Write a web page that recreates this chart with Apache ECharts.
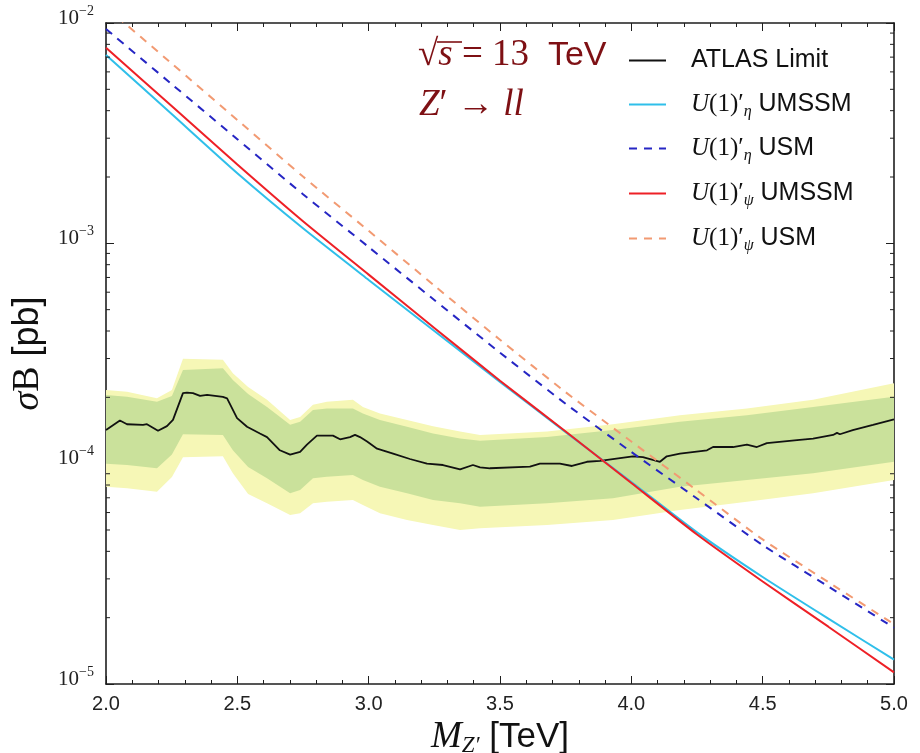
<!DOCTYPE html>
<html><head><meta charset="utf-8">
<script src="https://cdn.jsdelivr.net/npm/echarts@6/dist/echarts.min.js"></script>
<style>html,body{margin:0;padding:0;background:#fff}#c{width:920px;height:753px}</style>
</head><body><div id="c"></div>
<script>
// ---------------- data ----------------
const xTicks = [2.0, 2.5, 3.0, 3.5, 4.0, 4.5, 5.0];
const yTickExponents = [-5, -4, -3, -2];
const yMinorTicks = [2e-5,3e-5,4e-5,5e-5,6e-5,7e-5,8e-5,9e-5,
                     2e-4,3e-4,4e-4,5e-4,6e-4,7e-4,8e-4,9e-4,
                     2e-3,3e-3,4e-3,5e-3,6e-3,7e-3,8e-3,9e-3];

const thMass   = [2.0, 2.25, 2.5, 2.75, 3.0, 3.25, 3.5, 3.75, 4.0, 4.25, 4.5, 4.75, 5.0];
const etaUMSSM = [7.16e-3, 3.86e-3, 2.08e-3, 1.17e-3, 6.82e-4, 4.00e-4, 2.35e-4, 1.39e-4, 8.26e-5, 4.88e-5, 3.06e-5, 1.98e-5, 1.29e-5];
const etaUSM   = [9.39e-3, 5.28e-3, 2.97e-3, 1.67e-3, 9.62e-4, 5.53e-4, 3.19e-4, 1.87e-4, 1.13e-4, 6.95e-5, 4.27e-5, 2.77e-5, 1.80e-5];
const psiUMSSM = [7.72e-3, 4.20e-3, 2.28e-3, 1.26e-3, 7.21e-4, 4.13e-4, 2.38e-4, 1.40e-4, 8.17e-5, 4.77e-5, 2.92e-5, 1.82e-5, 1.13e-5];
const psiUSM   = [1.18e-2, 6.55e-3, 3.63e-3, 2.01e-3, 1.14e-3, 6.43e-4, 3.65e-4, 2.11e-4, 1.26e-4, 7.56e-5, 4.53e-5, 2.90e-5, 1.87e-5];

const limMass = [2.000, 2.053, 2.080, 2.141, 2.156, 2.198, 2.232, 2.255, 2.293, 2.308, 2.331, 2.358, 2.385, 2.445, 2.461, 2.499, 2.537, 2.586, 2.613, 2.662, 2.701, 2.739, 2.765, 2.803, 2.864, 2.891, 2.929, 2.948, 2.967, 2.994, 3.032, 3.093, 3.157, 3.222, 3.283, 3.348, 3.397, 3.424, 3.462, 3.614, 3.652, 3.728, 3.774, 3.831, 3.881, 3.957, 4.006, 4.044, 4.082, 4.109, 4.135, 4.185, 4.288, 4.311, 4.387, 4.440, 4.478, 4.516, 4.631, 4.692, 4.768, 4.783, 4.794, 4.843, 4.920, 5.000];
const atlasLimit = [1.42e-4, 1.57e-4, 1.51e-4, 1.50e-4, 1.51e-4, 1.41e-4, 1.48e-4, 1.58e-4, 2.09e-4, 2.10e-4, 2.09e-4, 2.03e-4, 2.05e-4, 2.01e-4, 1.98e-4, 1.61e-4, 1.47e-4, 1.37e-4, 1.32e-4, 1.15e-4, 1.10e-4, 1.13e-4, 1.22e-4, 1.34e-4, 1.34e-4, 1.29e-4, 1.32e-4, 1.35e-4, 1.32e-4, 1.26e-4, 1.17e-4, 1.11e-4, 1.05e-4, 1.00e-4, 9.86e-5, 9.43e-5, 9.86e-5, 9.63e-5, 9.53e-5, 9.69e-5, 1.00e-4, 1.00e-4, 9.76e-5, 1.02e-4, 1.03e-4, 1.06e-4, 1.08e-4, 1.07e-4, 1.04e-4, 1.02e-4, 1.08e-4, 1.11e-4, 1.15e-4, 1.19e-4, 1.19e-4, 1.22e-4, 1.19e-4, 1.24e-4, 1.28e-4, 1.30e-4, 1.35e-4, 1.38e-4, 1.36e-4, 1.42e-4, 1.50e-4, 1.59e-4];

const bandMass = [2.000, 2.080, 2.194, 2.251, 2.293, 2.445, 2.483, 2.541, 2.613, 2.701, 2.739, 2.788, 2.841, 2.940, 2.978, 3.043, 3.146, 3.245, 3.348, 3.424, 3.679, 3.930, 4.185, 4.440, 4.692, 5.000];
const oneSigmaHi = [2.05e-4, 2.01e-4, 1.91e-4, 2.03e-4, 2.66e-4, 2.71e-4, 2.40e-4, 2.07e-4, 1.81e-4, 1.50e-4, 1.55e-4, 1.75e-4, 1.78e-4, 1.78e-4, 1.69e-4, 1.58e-4, 1.47e-4, 1.37e-4, 1.30e-4, 1.27e-4, 1.32e-4, 1.42e-4, 1.55e-4, 1.66e-4, 1.81e-4, 2.01e-4];
const oneSigmaLo = [1.00e-4, 9.86e-5, 9.53e-5, 1.10e-4, 1.36e-4, 1.35e-4, 1.15e-4, 9.66e-5, 8.58e-5, 7.34e-5, 7.59e-5, 8.58e-5, 8.73e-5, 8.88e-5, 8.43e-5, 7.86e-5, 7.34e-5, 6.84e-5, 6.61e-5, 6.38e-5, 6.61e-5, 6.96e-5, 7.86e-5, 8.43e-5, 9.04e-5, 1.02e-4];
const twoSigmaHi = [2.16e-4, 2.12e-4, 1.98e-4, 2.16e-4, 2.99e-4, 2.96e-4, 2.57e-4, 2.23e-4, 1.95e-4, 1.58e-4, 1.63e-4, 1.85e-4, 1.91e-4, 1.95e-4, 1.81e-4, 1.69e-4, 1.58e-4, 1.48e-4, 1.40e-4, 1.35e-4, 1.40e-4, 1.51e-4, 1.66e-4, 1.78e-4, 1.95e-4, 2.32e-4];
const twoSigmaLo = [7.86e-5, 7.73e-5, 7.46e-5, 8.70e-5, 1.07e-4, 1.08e-4, 9.04e-5, 7.29e-5, 6.61e-5, 5.85e-5, 5.95e-5, 6.61e-5, 6.72e-5, 6.84e-5, 6.49e-5, 5.95e-5, 5.55e-5, 5.27e-5, 5.00e-5, 5.09e-5, 5.27e-5, 5.55e-5, 6.16e-5, 6.72e-5, 7.34e-5, 8.43e-5];

// ---------------- chart ----------------
const SERIF = '"Liberation Serif", "DejaVu Serif", serif';
const SANS = '"Liberation Sans", Arial, sans-serif';
const X_MIN = xTicks[0], X_MAX = xTicks[xTicks.length - 1];
const Y_MIN = Math.pow(10, yTickExponents[0]), Y_MAX = Math.pow(10, yTickExponents[yTickExponents.length - 1]);
const FRAME = '#1e1e1e';
const DARKRED = '#7e1014';

function pairs(xs, ys) { return xs.map((x, i) => [x, ys[i]]); }

function band(name, lo, hi, color, z) {
  return {
    type: 'custom', name, z, silent: true,
    data: [[bandMass[0], lo[0]]],
    renderItem(params, api) {
      const pts = [];
      for (let i = 0; i < bandMass.length; i++) pts.push(api.coord([bandMass[i], hi[i]]));
      for (let i = bandMass.length - 1; i >= 0; i--) pts.push(api.coord([bandMass[i], lo[i]]));
      return { type: 'polygon', shape: { points: pts }, style: { fill: color } };
    }
  };
}

const legendNames = ['ATLAS Limit', 'etaUMSSM', 'etaUSM', 'psiUMSSM', 'psiUSM'];
const legendText = {
  'ATLAS Limit': '{g| }{t|ATLAS Limit}',
  'etaUMSSM': '{g| }{m|U}{n|(1)′}{sub|η}{t| UMSSM}',
  'etaUSM': '{g| }{m|U}{n|(1)′}{sub|η}{t| USM}',
  'psiUMSSM': '{g| }{m|U}{n|(1)′}{sub|ψ}{t| UMSSM}',
  'psiUSM': '{g| }{m|U}{n|(1)′}{sub|ψ}{t| USM}'
};
const legendRich = {
  g: { width: 20 },
  t: { fontFamily: SANS, fontSize: 25, lineHeight: 30, color: '#111' },
  m: { fontFamily: SERIF, fontStyle: 'italic', fontSize: 25, lineHeight: 30, color: '#111' },
  n: { fontFamily: SERIF, fontSize: 25, lineHeight: 30, color: '#111' },
  sub: { fontFamily: SERIF, fontStyle: 'italic', fontSize: 16, lineHeight: 20, verticalAlign: 'bottom', color: '#111' }
};
const legendRowCenters = [59, 103, 147, 192, 237];
const legends = legendNames.map((nm, i) => ({
  data: [nm], left: 628, top: legendRowCenters[i] - 11, padding: 0,
  itemWidth: 37, itemHeight: 14, selectedMode: false,
  itemStyle: { opacity: 0 },
  formatter: (n) => legendText[n],
  textStyle: { rich: legendRich }
}));

const option = {
  backgroundColor: '#fff',
  animation: false,
  grid: { left: 106, right: 26, top: 23, bottom: 69, containLabel: false, outerBoundsMode: 'none' },
  legend: legends,
  xAxis: [{
    type: 'value', min: X_MIN, max: X_MAX, interval: 0.5, position: 'bottom',
    axisLine: { show: true, onZero: false, lineStyle: { color: FRAME, width: 1.6 } },
    axisTick: { show: true, inside: true, length: 8, lineStyle: { color: FRAME, width: 1 } },
    minorTick: { show: true, splitNumber: 5, length: 4, lineStyle: { color: FRAME, width: 1 } },
    splitLine: { show: false },
    axisLabel: { fontFamily: SANS, fontSize: 20, color: '#222', margin: 10, formatter: v => v.toFixed(1) },
    name: '{mi|M}{sub|Z′}{t| [TeV]}', nameLocation: 'middle', nameGap: 26,
    nameTextStyle: { rich: {
      mi: { fontFamily: SERIF, fontStyle: 'italic', fontSize: 37, lineHeight: 40, color: '#111' },
      sub: { fontFamily: SERIF, fontStyle: 'italic', fontSize: 23, lineHeight: 26, verticalAlign: 'bottom', color: '#111' },
      t: { fontFamily: SANS, fontSize: 35, lineHeight: 40, color: '#111' }
    } }
  }, {
    type: 'value', min: X_MIN, max: X_MAX, interval: 0.5, position: 'top',
    axisLine: { show: true, onZero: false, lineStyle: { color: FRAME, width: 1.6 } },
    axisTick: { show: true, inside: true, length: 8, lineStyle: { color: FRAME, width: 1 } },
    minorTick: { show: true, splitNumber: 5, length: 4, lineStyle: { color: FRAME, width: 1 } },
    splitLine: { show: false }, axisLabel: { show: false }
  }],
  yAxis: [{
    type: 'log', logBase: 10, min: Y_MIN, max: Y_MAX, position: 'left',
    axisLine: { show: true, onZero: false, lineStyle: { color: FRAME, width: 1.6 } },
    axisTick: { show: true, inside: true, length: 8, lineStyle: { color: FRAME, width: 1 } },
    minorTick: { show: false }, splitLine: { show: false },
    axisLabel: {
      margin: 12, padding: [0, 0, 10, 0],
      formatter: (v) => { const e = Math.round(Math.log10(v)); return '{b|10}{e|' + (e < 0 ? '−' : '') + Math.abs(e) + '}'; },
      rich: {
        b: { fontFamily: SERIF, fontSize: 21, lineHeight: 28, color: '#222' },
        e: { fontFamily: SERIF, fontSize: 14, lineHeight: 14, verticalAlign: 'top', color: '#222' }
      }
    },
    name: '{si|σ}{r|B}{t| [pb]}', nameLocation: 'middle', nameGap: 50, nameRotate: 90,
    nameTextStyle: { rich: {
      si: { fontFamily: SERIF, fontStyle: 'italic', fontSize: 38, lineHeight: 40, color: '#111' },
      r: { fontFamily: SERIF, fontSize: 38, lineHeight: 40, color: '#111' },
      t: { fontFamily: SANS, fontSize: 36, lineHeight: 40, color: '#111' }
    } }
  }, {
    type: 'log', logBase: 10, min: Y_MIN, max: Y_MAX, position: 'right',
    axisLine: { show: true, onZero: false, lineStyle: { color: FRAME, width: 1.6 } },
    axisTick: { show: true, inside: true, length: 8, lineStyle: { color: FRAME, width: 1 } },
    minorTick: { show: false }, splitLine: { show: false }, axisLabel: { show: false }
  }],
  graphic: [
    { type: 'text', left: 418, top: 37, z: 100,
      style: { text: '{sq|√}{si|s}{n| = 13}{tv|  TeV}', rich: {
        sq: { fontFamily: SERIF, fontSize: 37, lineHeight: 46, fill: DARKRED },
        si: { fontFamily: SERIF, fontStyle: 'italic', fontSize: 37, lineHeight: 46, fill: DARKRED },
        n: { fontFamily: SERIF, fontSize: 37, lineHeight: 46, fill: DARKRED },
        tv: { fontFamily: SANS, fontSize: 34, lineHeight: 46, fill: DARKRED }
      } } },
    { type: 'line', z: 100, shape: { x1: 437, y1: 42, x2: 462, y2: 42 }, style: { stroke: DARKRED, lineWidth: 1.6 } },
    { type: 'text', left: 419, top: 87, z: 100,
      style: { text: '{zi|Z}{n|′ → }{li|ll}', rich: {
        zi: { fontFamily: SERIF, fontStyle: 'italic', fontSize: 37, lineHeight: 46, fill: DARKRED },
        n: { fontFamily: SERIF, fontSize: 37, lineHeight: 46, fill: DARKRED },
        li: { fontFamily: SERIF, fontStyle: 'italic', fontSize: 37, lineHeight: 46, fill: DARKRED }
      } } }
  ],
  series: [
    band('2sigma', twoSigmaLo, twoSigmaHi, '#f6f7b6', 1),
    band('1sigma', oneSigmaLo, oneSigmaHi, '#cae19b', 2),
    { type: 'line', name: 'ATLAS Limit', data: pairs(limMass, atlasLimit), symbol: 'none', z: 4,
      lineStyle: { color: '#111', width: 1.8 }, itemStyle: { color: '#111' } },
    { type: 'line', name: 'etaUMSSM', data: pairs(thMass, etaUMSSM), symbol: 'none', z: 5, smooth: 0.2,
      lineStyle: { color: '#2fbfea', width: 2 }, itemStyle: { color: '#2fbfea' } },
    { type: 'line', name: 'etaUSM', data: pairs(thMass, etaUSM), symbol: 'none', z: 5, smooth: 0.2,
      lineStyle: { color: '#2626c4', width: 2, type: [8, 7] }, itemStyle: { color: '#2626c4' } },
    { type: 'line', name: 'psiUMSSM', data: pairs(thMass, psiUMSSM), symbol: 'none', z: 6, smooth: 0.2,
      lineStyle: { color: '#ee2026', width: 2 }, itemStyle: { color: '#ee2026' } },
    { type: 'line', name: 'psiUSM', data: pairs(thMass, psiUSM), symbol: 'none', z: 5, smooth: 0.2,
      lineStyle: { color: '#f29a72', width: 2, type: [8, 7] }, itemStyle: { color: '#f29a72' } },
    { type: 'custom', name: 'yMinor', silent: true, z: 10, clip: false,
      data: yMinorTicks.map(v => [X_MIN, v]),
      renderItem(params, api) {
        const v = api.value(1);
        const l = api.coord([X_MIN, v]);
        const r = api.coord([X_MAX, v]);
        return { type: 'group', children: [
          { type: 'line', shape: { x1: l[0], y1: l[1], x2: l[0] + 4, y2: l[1] }, style: { stroke: FRAME, lineWidth: 1 } },
          { type: 'line', shape: { x1: r[0] - 4, y1: r[1], x2: r[0], y2: r[1] }, style: { stroke: FRAME, lineWidth: 1 } }
        ] };
      } }
  ]
};
const chart = echarts.init(document.getElementById('c'));
chart.setOption(option);
</script>
</body></html>
